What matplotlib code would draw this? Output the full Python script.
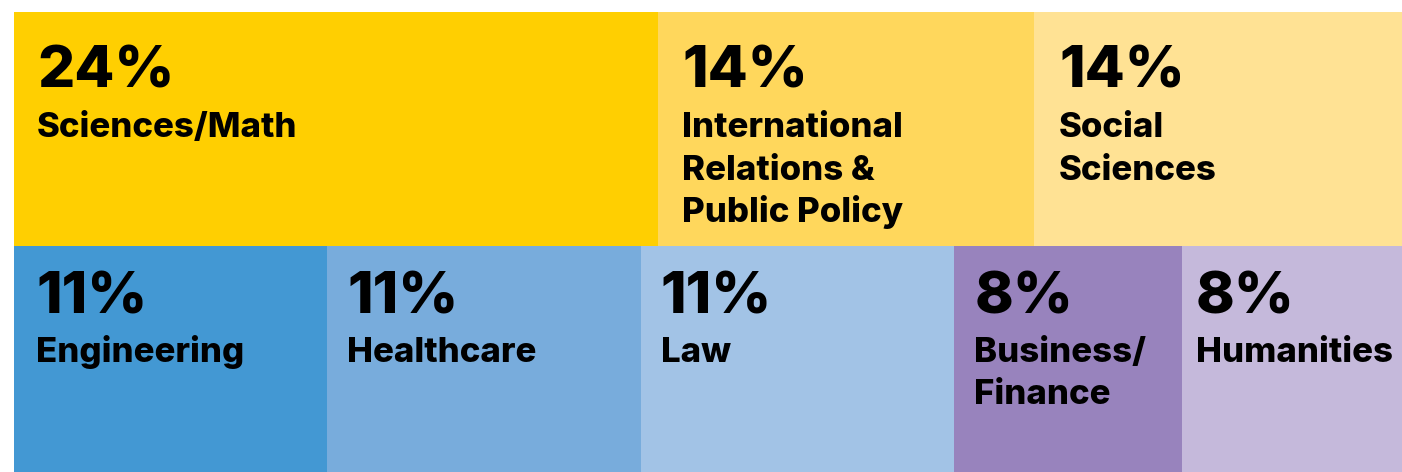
import matplotlib.pyplot as plt
import numpy as np

# top row of the treemap
top_pcts = [24, 14, 14]
top_labels = ["Sciences/Math", "International\nRelations &\nPublic Policy", "Social\nSciences"]
top_colors = ["#FFCF01", "#FFD75C", "#FFE294"]

# bottom row
bot_pcts = [11, 11, 11, 8, 8]
bot_labels = ["Engineering", "Healthcare", "Law", "Business/\nFinance", "Humanities"]
bot_colors = ["#4398D3", "#78ACDC", "#A2C3E6", "#9883BD", "#C5B9DB"]

FONT = "Inter"

fig = plt.figure(figsize=(14.02, 4.72), dpi=100)
# the treemap runs a little past the right edge of the picture
ax = fig.add_axes([14 / 1402, 0, 1396 / 1402, 460 / 472])
ax.set_xlim(0, 1)
ax.set_ylim(1, 0)
ax.axis("off")

split = 234 / 460


def draw_row(pcts, labels, colors, y0, h, pct_dy, lab_dy, pads):
    vals = np.array(pcts, dtype=float)
    edges = np.concatenate([[0], np.cumsum(vals)]) / vals.sum()
    for i in range(len(vals)):
        x0 = edges[i]
        ax.add_patch(plt.Rectangle((x0, y0), edges[i + 1] - x0, h,
                                   facecolor=colors[i], edgecolor="none"))
        ax.annotate(f"{pcts[i]}%", xy=(x0, y0), xytext=(pads[i], -pct_dy),
                    textcoords="offset pixels", fontsize=42, fontweight="heavy",
                    family=FONT, va="baseline", ha="left", color="black")
        for j, line in enumerate(labels[i].split("\n")):
            ax.annotate(line, xy=(x0, y0), xytext=(pads[i], -(lab_dy + 42.5 * j)),
                        textcoords="offset pixels", fontsize=25, fontweight="heavy",
                        family=FONT, va="baseline", ha="left", color="black")


draw_row(top_pcts, top_labels, top_colors, 0, split, 76, 125, [23, 24, 25])
draw_row(bot_pcts, bot_labels, bot_colors, split, 1 - split, 67, 116, [22, 20, 20, 20, 14])

fig.savefig("out.png", dpi=100, facecolor="white")
